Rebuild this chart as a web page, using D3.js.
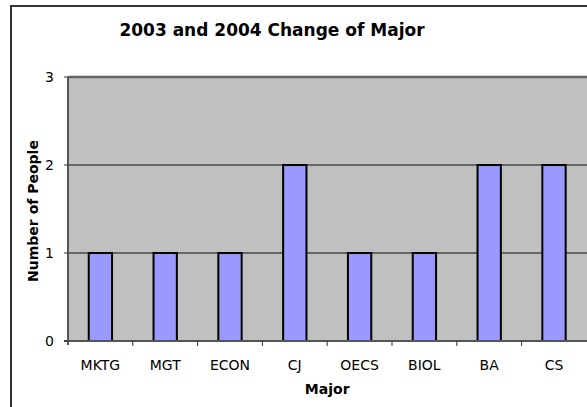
<!DOCTYPE html>
<html>
<head>
<meta charset="utf-8">
<script src="https://cdn.jsdelivr.net/npm/d3@7"></script>
<style>
  body { margin: 0; background: #fff; }
  svg { display: block; font-family: "DejaVu Sans", Verdana, sans-serif; }
</style>
</head>
<body>
<div id="chart"></div>
<script>
// Change of major, 2003 + 2004
const majors = ["MKTG", "MGT", "ECON", "CJ", "OECS", "BIOL", "BA", "CS"];
const people = [1, 1, 1, 2, 1, 1, 2, 2];
const yTicks = [0, 1, 2, 3];

const width = 587, height = 407;
// plot box (window.top is taken, so no bare "top" here)
const pLeft = 68, pRight = 586.4, pTop = 77, pBottom = 341;

const svg = d3.select("#chart").append("svg")
  .attr("width", width)
  .attr("height", height);

// outer chart frame (runs off the right and bottom of the picture)
svg.append("rect")
  .attr("x", 11).attr("y", 6)
  .attr("width", 640).attr("height", 440)
  .attr("fill", "none")
  .attr("stroke", "#333")
  .attr("stroke-width", 2);

const x = d3.scaleBand()
  .domain(majors)
  .range([pLeft, pRight]);

const y = d3.scaleLinear()
  .domain([0, 3])
  .range([pBottom, pTop]);

// plot area
svg.append("rect")
  .attr("x", pLeft).attr("y", pTop)
  .attr("width", width + 10 - pLeft).attr("height", pBottom - pTop)
  .attr("fill", "#c0c0c0");

// gridlines
svg.append("g")
  .selectAll("line")
  .data(yTicks.filter(d => d > 0))
  .join("line")
  .attr("x1", pLeft).attr("x2", width + 10)
  .attr("y1", d => y(d)).attr("y2", d => y(d))
  .attr("stroke", "#666")
  .attr("stroke-width", d => d === 3 ? 2.5 : 2);

// bars
const barW = x.bandwidth() * 0.36;
svg.append("g")
  .selectAll("rect")
  .data(majors)
  .join("rect")
  .attr("x", d => x(d) + (x.bandwidth() - barW) / 2)
  .attr("y", (d, i) => y(people[i]))
  .attr("width", barW)
  .attr("height", (d, i) => y(0) - y(people[i]))
  .attr("fill", "#9999ff")
  .attr("stroke", "#000")
  .attr("stroke-width", 2);

// x axis
const xAxis = svg.append("g")
  .attr("transform", `translate(0,${pBottom})`);
xAxis.append("line")
  .attr("x1", pLeft - 4).attr("x2", width + 10)
  .attr("y1", 0).attr("y2", 0)
  .attr("stroke", "#555").attr("stroke-width", 2);
xAxis.selectAll(".tk")
  .data(majors.slice(1))
  .join("line")
  .attr("class", "tk")
  .attr("x1", d => x(d)).attr("x2", d => x(d))
  .attr("y1", 0).attr("y2", 5)
  .attr("stroke", "#333").attr("stroke-width", 1);
xAxis.selectAll("text")
  .data(majors)
  .join("text")
  .attr("x", d => x(d) + x.bandwidth() / 2)
  .attr("y", 29)
  .attr("text-anchor", "middle")
  .attr("font-size", "14px")
  .attr("fill", "#000")
  .text(d => d);

// y axis
const yAxis = svg.append("g");
yAxis.append("line")
  .attr("x1", pLeft).attr("x2", pLeft)
  .attr("y1", pTop).attr("y2", pBottom + 4)
  .attr("stroke", "#555").attr("stroke-width", 2);
yAxis.selectAll(".tk")
  .data(yTicks)
  .join("line")
  .attr("class", "tk")
  .attr("x1", pLeft - 4).attr("x2", pLeft)
  .attr("y1", d => y(d)).attr("y2", d => y(d))
  .attr("stroke", "#333").attr("stroke-width", 1);
yAxis.selectAll("text")
  .data(yTicks)
  .join("text")
  .attr("x", 54)
  .attr("y", d => y(d))
  .attr("dy", "0.36em")
  .attr("text-anchor", "end")
  .attr("font-size", "14px")
  .attr("fill", "#000")
  .text(d => d);

// titles
svg.append("text")
  .attr("x", 272).attr("y", 36)
  .attr("text-anchor", "middle")
  .attr("font-size", "17px")
  .attr("font-weight", "bold")
  .text("2003 and 2004 Change of Major");

svg.append("text")
  .attr("x", (pLeft + pRight) / 2).attr("y", 394)
  .attr("text-anchor", "middle")
  .attr("font-size", "14px")
  .attr("font-weight", "bold")
  .text("Major");

svg.append("text")
  .attr("transform", "translate(38,211) rotate(-90)")
  .attr("text-anchor", "middle")
  .attr("font-size", "14px")
  .attr("font-weight", "bold")
  .text("Number of People");
</script>
</body>
</html>
